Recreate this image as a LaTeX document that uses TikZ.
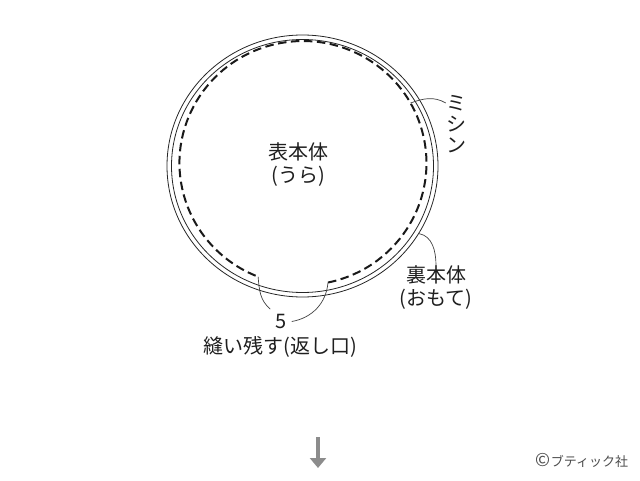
\documentclass[tikz,border=0pt]{standalone}
\usepackage{fontspec}
\newfontfamily\jpfont{Noto Sans CJK JP}
\usetikzlibrary{arrows.meta}

\tikzset{
    jplabel/.style={font=\jpfont\fontsize{20}{23}\selectfont, text=black!88, align=center, inner sep=0pt},
    edgeline/.style={line width=0.8pt, draw=black!85},
    seam/.style={line width=2pt, dash pattern=on 8.5pt off 4.5pt, draw=black!90},
    leader/.style={line width=0.7pt, draw=black!75},
}

\begin{document}
\begin{tikzpicture}[x=1pt,y=1pt]
    \useasboundingbox (0,0) rectangle (640,480);

    % two cloth edges
    \draw[edgeline] (302.5,314) ellipse [x radius=135.5, y radius=131];
    \draw[edgeline] (302.5,314) ellipse [x radius=131, y radius=126.5];

    % stitching, left open at the bottom
    \coordinate (gapR) at (328.0,197.5);
    \coordinate (gapL) at (258.1,203.3);
    \draw[seam] (gapR) arc [start angle=281.7, end angle=608.7, x radius=123.5, y radius=122];

    \coordinate (seampt) at (410.5,377);
    \coordinate (edgept) at (418.6,246.5);

    \node[jplabel] (front) at (298,315) {表本体\\(うら)};
    \node[jplabel] (back) at (436,192) {裏本体\\(おもて)};
    \node[jplabel, font=\jpfont\fontsize{20}{21}\selectfont] (sewing) at (456,356) {ミ\\シ\\ン};
    \node[jplabel, inner sep=5pt] (five) at (281,158.5) {5};
    \node[jplabel] (opening) at (280,133) {縫い残す(返し口)};

    \path [leader](seampt) edge [out=20, in=150] (sewing.west |- seampt);
    \path [leader](edgept) edge [out=-10, in=90] (back.north);
    \path [leader](gapL) edge [out=-85, in=140] (five.north west);
    \path [leader](gapR) edge [out=-95, in=10] (five.east);

    % next step
    \coordinate (arrtop) at (318,43);
    \coordinate (arrbot) at (318,12);
    \draw[line width=4pt, draw=black!45, -{Triangle[width=16pt,length=10pt]}] (arrtop) -- (arrbot);

    \node[font=\jpfont\fontsize{13}{15}\selectfont, text=black!70] (credit) at (582,20) {{\fontsize{18}{15}\selectfont ©}ブティック社};
\end{tikzpicture}
\end{document}
